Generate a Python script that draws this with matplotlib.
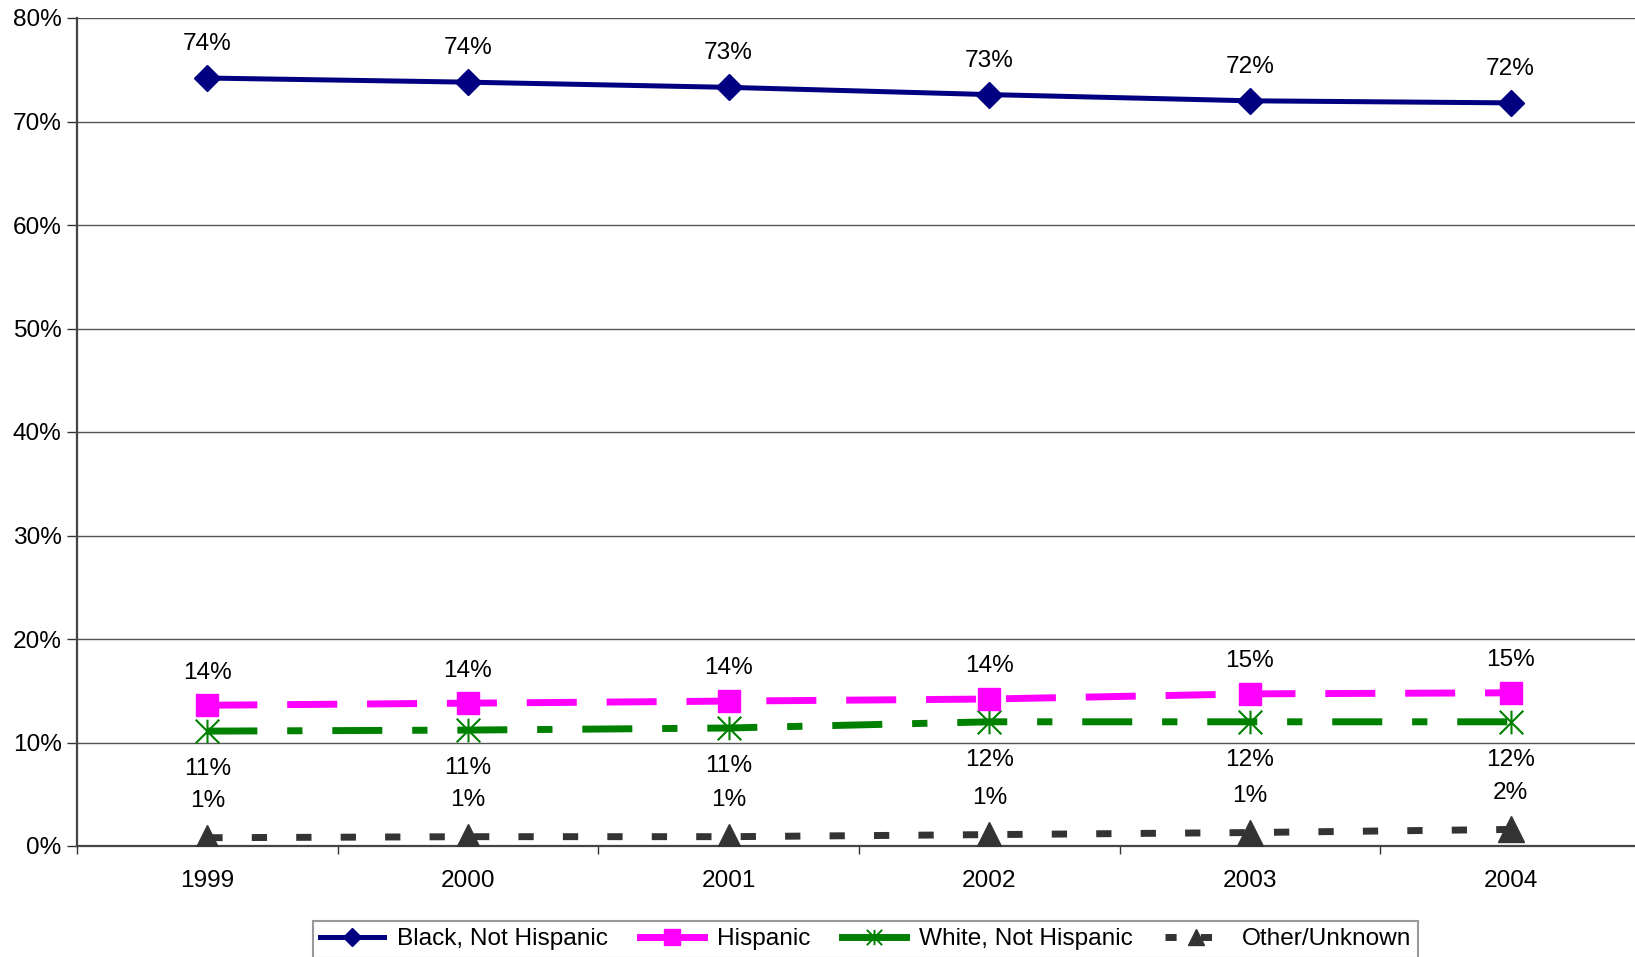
import matplotlib.pyplot as plt
from matplotlib.lines import Line2D
from matplotlib.path import Path

plt.rcParams['font.family'] = ['Liberation Sans', 'DejaVu Sans']

# Share of cases by race/ethnicity, 1999-2004 (percent)
years = ['1999', '2000', '2001', '2002', '2003', '2004']
black = [74.2, 73.8, 73.3, 72.6, 72.0, 71.8]
hispanic = [13.6, 13.8, 14.0, 14.2, 14.7, 14.8]
white = [11.1, 11.2, 11.4, 12.0, 12.0, 12.0]
other = [0.8, 0.9, 0.9, 1.1, 1.3, 1.6]

x = list(range(1, len(years) + 1))
fs = 17.6

# X with a vertical bar through it
star = Path([(-1, -1), (1, 1), (-1, 1), (1, -1), (0, -1), (0, 1)],
            [Path.MOVETO, Path.LINETO, Path.MOVETO, Path.LINETO, Path.MOVETO, Path.LINETO])

fig = plt.figure(figsize=(16.35, 9.57), dpi=100)
ax = fig.add_axes([77 / 1635, 111 / 957, 1564 / 1635, 828 / 957])

ax.plot(x, black, color='#000080', lw=3.6, marker='D', ms=13.5,
        label='Black, Not Hispanic', zorder=5)
ax.plot(x, hispanic, color='#ff00ff', lw=5, marker='s', ms=16,
        dashes=(7.2, 4.3), label='Hispanic', zorder=4)
ax.plot(x, white, color='#008000', lw=5, marker=star, ms=17, mew=1.5,
        mfc='none', dashes=(7.2, 4.3, 2.2, 4.3), label='White, Not Hispanic', zorder=3)
ax.plot(x, other, color='#333333', lw=5, marker='^', ms=19,
        dashes=(2.2, 4.2), label='Other/Unknown', zorder=3)

# value labels
def put_labels(vals, dy):
    for xi, v in zip(x, vals):
        ax.annotate(f'{v:.0f}%', (xi, v), xytext=(0, dy), textcoords='offset points',
                    ha='center', va='center', fontsize=fs, color='black')

put_labels(black, 24.5)
put_labels(hispanic, 23.5)
put_labels(white, -27.5)
put_labels(other, 26.5)

ax.set_xlim(0.5, 6.5)
ax.set_ylim(0, 80)
ax.set_yticks(range(0, 81, 10))
ax.set_yticklabels([f'{v}%' for v in range(0, 81, 10)])
ax.set_xticks(x)
ax.set_xticklabels(years)
ax.set_xticks([i + 0.5 for i in range(0, 7)], minor=True)
ax.tick_params(axis='x', which='major', length=0, pad=17.5, labelsize=fs)
ax.tick_params(axis='x', which='minor', length=6, width=1, color='#333333')
ax.tick_params(axis='y', length=7, width=1, color='#333333', pad=4, labelsize=fs)

ax.grid(axis='y', color='#555555', lw=1)
ax.set_axisbelow(True)
for side in ['top', 'right']:
    ax.spines[side].set_visible(False)
ax.spines['left'].set_color('#444444')
ax.spines['left'].set_linewidth(1.6)
ax.spines['bottom'].set_color('#444444')
ax.spines['bottom'].set_linewidth(1.6)

handles = [
    Line2D([], [], color='#000080', lw=3.6, marker='D', ms=9),
    Line2D([], [], color='#ff00ff', lw=5, marker='s', ms=11),
    Line2D([], [], color='#008000', lw=5, marker=star, ms=11, mew=1.4, mfc='none'),
    Line2D([], [], color='#333333', lw=5, marker='^', ms=12, dashes=(1.6, 3.5)),
]
leg = fig.legend(handles, ['Black, Not Hispanic', 'Hispanic', 'White, Not Hispanic', 'Other/Unknown'],
                 loc='upper left', bbox_to_anchor=(313 / 1635, 1 - 921 / 957), ncol=4,
                 fontsize=fs, frameon=True, fancybox=False, edgecolor='#808080',
                 handlelength=2.6, columnspacing=1.3, handletextpad=0.55,
                 borderpad=0.3, borderaxespad=0)
leg.get_frame().set_linewidth(1.5)

fig.savefig('out.png', dpi=100)
